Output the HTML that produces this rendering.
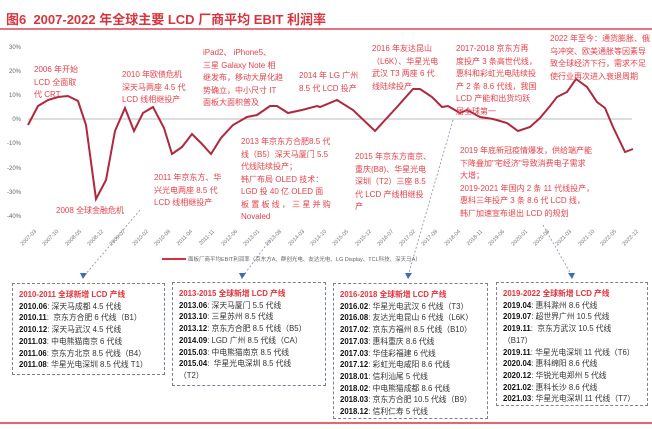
<!DOCTYPE html>
<html><head><meta charset="utf-8"><style>
body{margin:0;width:652px;height:429px;background:#fff;position:relative;overflow:hidden;font-family:"Liberation Sans","Noto Sans CJK SC",sans-serif}
.a{position:absolute;color:#e8404a;font-size:8px;line-height:12.5px;white-space:nowrap}
.box{position:absolute;border:1px dashed #7a8290;padding:5px 6px 2px;font-size:7.8px;line-height:11.7px;color:#333;white-space:nowrap;box-sizing:border-box}
.box b{color:#111}
.box .t{color:#e8303a;font-weight:bold}
</style></head><body>
<div style="position:absolute;left:6px;top:9px;font-size:13px;font-weight:bold;color:#d9343d">图6&nbsp; 2007-2022 年全球主要 LCD 厂商平均 EBIT 利润率</div>
<div style="position:absolute;left:0;top:28px;width:652px;height:2px;background:#e07680"></div>
<svg width="652" height="429" style="position:absolute;left:0;top:0">
<g font-size="6" fill="#666" text-anchor="end">
<text x="21" y="49">30%</text><text x="21" y="73">20%</text><text x="21" y="97">10%</text><text x="21" y="121">0%</text><text x="21" y="145">-10%</text><text x="21" y="170">-20%</text><text x="21" y="194">-30%</text><text x="21" y="218">-40%</text>
</g>
<line x1="28" y1="119" x2="632" y2="119" stroke="#bbb" stroke-width="1"/>
<polyline fill="none" stroke="#b0283e" stroke-width="2" points="28,125 38,106 48,100 58,97 68,96 78,101 86,125 96,199 106,180 115,131 125,108 134,131 143,113 153,107 164,128 172,154 182,147 192,134 201,143 211,154 221,138 233,125 247,117 257,115 270,106 277,106 288,113 302,110 317,106 320,107 337,100 353,110 375,131 397,107 413,89 420,89 432,97 442,107 448,106 460,113 467,110 480,117 493,119 507,123 518,131 530,127 540,118 550,106 557,97 567,92 576,79 587,87 597,102 605,108 613,127 625,152 633,149"/>
<g fill="#8090b8" stroke="#8090b8" stroke-dasharray="2,2" stroke-width="0.8">
<line x1="140" y1="210" x2="84" y2="276"/><line x1="270" y1="240" x2="243" y2="276"/><line x1="453" y1="120" x2="408" y2="276"/><line x1="543" y1="225" x2="572" y2="276"/>
</g>
<g fill="#3a6fb8"><polygon points="80,273 87,273 83,279"/><polygon points="239,273 246,273 242,279"/><polygon points="405,273 412,273 408,279"/><polygon points="568,273 575,273 572,279"/></g>
<line x1="162" y1="259" x2="186" y2="259" stroke="#d93040" stroke-width="2"/>
<text x="188" y="261" font-size="5.5" fill="#666">面板厂商平均EBIT利润率（京东方A、群创光电、友达光电、LG Display、TCL科技、深天马A）</text>
<line x1="0" y1="423" x2="652" y2="423" stroke="#d9343d" stroke-width="1.5"/>
</svg>
<div id="ticks"></div>
<script>
var l=["2007-03","2007-10","2008-05","2008-12","2009-07","2010-02","2010-09","2011-04","2011-11","2012-06","2013-01","2013-08","2014-03","2014-10","2015-05","2015-12","2016-07","2017-02","2017-09","2018-04","2018-11","2019-06","2020-01","2020-08","2021-03","2021-10","2022-05","2022-12"];
var h="";for(var i=0;i<l.length;i++){var x=30+i*22.3;h+='<div style="position:absolute;left:'+(x-18)+'px;top:228px;font-size:5.5px;color:#777;transform:rotate(-45deg);transform-origin:right center;width:24px;text-align:right">'+l[i]+'</div>';}
document.getElementById('ticks').innerHTML=h;
</script>
<div class="a" style="left:34px;top:64px">2006 年开始<br>LCD 全面取<br>代 CRT</div>
<div class="a" style="left:56px;top:205px">2008 全球金融危机</div>
<div class="a" style="left:122px;top:69px">2010 年欧债危机<br>深天马两座 4.5 代<br>LCD 线相继投产</div>
<div class="a" style="left:154px;top:172px">2011 年京东方、华<br>兴光电两座 8.5 代<br>LCD 线相继投产</div>
<div class="a" style="left:203px;top:47px">iPad2、 iPhone5、<br>三星 Galaxy Note 相<br>继发布，移动大屏化趋<br>势确立，中小尺寸 IT<br>面板大面积普及</div>
<div class="a" style="left:241px;top:136px">2013 年京东方合肥8.5 代<br>线（B5）深天马厦门 5.5<br>代线陆续投产；<br>韩厂布局 OLED 技术：<br>LGD 投 40 亿 OLED 面<br>板 置 板 线 ， 三 星 并 购<br>Novaled</div>
<div class="a" style="left:299px;top:70px">2014 年 LG 广州<br>8.5 代 LCD 投产</div>
<div class="a" style="left:372px;top:43px">2016 年友达昆山<br>（L6K）、华星光电<br>武汉 T3 两座 6 代<br>线陆续投产</div>
<div class="a" style="left:355px;top:151px">2015 年京东方南京、<br>重庆(B8)、华星光电<br>深圳（T2）三座 8.5<br>代 LCD 产线相继投<br>产</div>
<div class="a" style="left:456px;top:43px">2017-2018 京东方再<br>度投产 3 条高世代线，<br>惠科和彩虹光电陆续投<br>产 2 条 8.6 代线，我国<br>LCD 产能和出货均跃<br>居全球第一</div>
<div class="a" style="left:460px;top:145px">2019 年底新冠疫情爆发，供给端产能<br>下降叠加"宅经济"导致消费电子需求<br>大增；<br>2019-2021 年国内 2 条 11 代线投产，<br>惠科三年投产 3 条 8.6 代 LCD 线，<br>韩厂加速宣布退出 LCD 的规划</div>
<div class="a" style="left:550px;top:33px">2022 年至今：通货膨胀、俄<br>乌冲突、欧美通胀等因素导<br>致全球经济下行，需求不足<br>使行业再次进入衰退周期</div>
<div class="box" style="left:12px;top:283px;width:153px;height:92px"><span class="t">2010-2011 全球新增 LCD 产线</span><br><b>2010.06</b>: 深天马成都 4.5 代线<br><b>2010.11</b>: &nbsp;京东方合肥 6 代线（B1）<br><b>2010.12</b>: 深天马武汉 4.5 代线<br><b>2011.03</b>: 中电熊猫南京 6 代线<br><b>2011.06</b>: 京东方北京 8.5 代线（B4）<br><b>2011.08</b>: 华星光电深圳 8.5 代线 T1）</div>
<div class="box" style="left:172px;top:282px;width:154px;height:104px"><span class="t">2013-2015 全球新增 LCD 产线</span><br><b>2013.06</b>: 深天马厦门 5.5 代线<br><b>2013.10</b>: 三星苏州 8.5 代线<br><b>2013.12</b>: 京东方合肥 8.5 代线（B5）<br><b>2014.09</b>: LGD 广州 8.5 代线（CA）<br><b>2015.03</b>: 中电熊猫南京 8.5 代线<br><b>2015.04</b>: &nbsp;华星光电深圳 8.5 代线<br>（T2）</div>
<div class="box" style="left:333px;top:283px;width:155px;height:136px"><span class="t">2016-2018 全球新增 LCD 产线</span><br><b>2016.02</b>: 华星光电武汉 6 代线（T3）<br><b>2016.08</b>: 友达光电昆山 6 代线（L6K）<br><b>2017.02</b>: 京东方福州 8.5 代线（B10）<br><b>2017.03</b>: 惠科重庆 8.6 代线<br><b>2017.03</b>: 华佳彩福建 6 代线<br><b>2017.12</b>: 彩虹光电咸阳 8.6 代线<br><b>2018.01</b>: 信利汕尾 5 代线<br><b>2018.02</b>: 中电熊猫成都 8.6 代线<br><b>2018.03</b>: 京东方合肥 10.5 代线（B9）<br><b>2018.12</b>: 信利仁寿 5 代线</div>
<div class="box" style="left:496px;top:282px;width:152px;height:124px"><span class="t">2019-2022 全球新增 LCD 产线</span><br><b>2019.04</b>: 惠科滁州 8.6 代线<br><b>2019.07</b>: 超世界广州 10.5 代线<br><b>2019.11</b>: &nbsp;京东方武汉 10.5 代线<br>（B17）<br><b>2019.11</b>: 华星光电深圳 11 代线（T6）<br><b>2020.04</b>: 惠科绵阳 8.6 代线<br><b>2020.12</b>: 华锐光电郑州 5 代线<br><b>2021.02</b>: 惠科长沙 8.6 代线<br><b>2021.03</b>: 华星光电深圳 11 代线（T7）</div>
</body></html>
